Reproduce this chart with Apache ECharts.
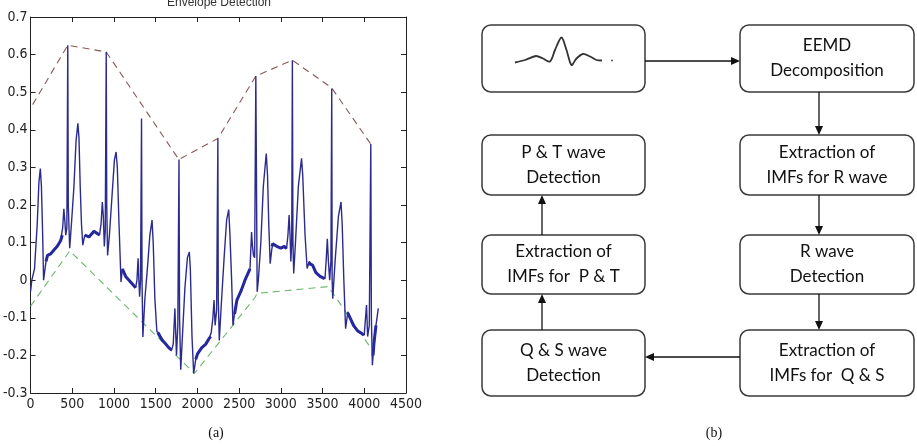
<!DOCTYPE html>
<html>
<head>
<meta charset="utf-8">
<script src="https://cdn.jsdelivr.net/npm/echarts@6.0.0/dist/echarts.min.js"></script>
<style>
  html, body { margin: 0; padding: 0; background: #fff; }
  #chart { width: 917px; height: 446px; }
</style>
</head>
<body>
<div id="chart"></div>
<script>
// ECG trace (sample index, amplitude)
const sigX = [0, 15, 47, 80, 100, 117, 130, 145, 156, 185, 203, 240, 280, 320, 360, 385, 399, 410, 422, 435, 446, 452, 469, 490, 520, 545, 567, 580, 595, 610, 626, 650, 700, 760, 826, 845, 860, 872, 884, 895, 907, 913, 923, 945, 975, 1005, 1025, 1040, 1060, 1084,
  1100, 1140, 1180, 1220, 1260, 1275, 1289, 1298, 1307, 1318, 1330, 1336, 1346, 1370, 1400, 1430, 1456, 1470, 1490, 1514, 1540, 1580, 1620, 1660, 1690, 1710, 1730, 1749, 1765, 1779, 1786, 1800, 1820, 1850, 1880, 1903, 1915, 1935, 1955,
  1980, 2003, 2050, 2100, 2140, 2165, 2185, 2199, 2212, 2230, 2245, 2250, 2262, 2290, 2320, 2350, 2375, 2390, 2410, 2426, 2450, 2473, 2520, 2570, 2610, 2630, 2649, 2660, 2672, 2686, 2700, 2716, 2730, 2760, 2790, 2825, 2840, 2855, 2872,
  2890, 2903, 2950, 3000, 3040, 3068, 3085, 3099, 3110, 3120, 3130, 3138, 3145, 3154, 3175, 3210, 3248, 3262, 3290, 3315, 3340, 3380, 3420, 3470, 3529, 3545, 3557, 3570, 3585, 3600, 3610, 3615, 3622, 3650, 3690, 3721, 3735, 3755, 3776,
  3803, 3830, 3870, 3920, 3960, 3999, 4015, 4027, 4040, 4060, 4078, 4085, 4097, 4115, 4140, 4168];
const sigY = [-0.03, 0.0, 0.03, 0.15, 0.26, 0.297, 0.25, 0.12, 0.0, 0.05, 0.066, 0.07, 0.08, 0.09, 0.105, 0.14, 0.19, 0.16, 0.12, 0.14, 0.625, 0.2, 0.085, 0.15, 0.25, 0.37, 0.417, 0.38, 0.25, 0.15, 0.093, 0.12, 0.115, 0.13, 0.12, 0.15, 0.208, 0.17, 0.09, 0.13, 0.607, 0.2, 0.066, 0.12, 0.22, 0.32, 0.341, 0.3, 0.15, -0.005,
  0.03, 0.01, 0.0, -0.01, -0.02, 0.0, 0.058, 0.0, -0.044, 0.0, 0.43, 0.0, -0.151, -0.05, 0.03, 0.12, 0.16, 0.1, -0.05, -0.137, -0.14, -0.16, -0.17, -0.18, -0.186, -0.17, -0.075, -0.2, -0.12, 0.321, -0.1, -0.238, -0.15, -0.02, 0.06, 0.075, 0.03, -0.15, -0.248,
  -0.21, -0.195, -0.18, -0.17, -0.155, -0.14, -0.1, -0.053, -0.12, -0.08, 0.377, -0.05, -0.16, -0.05, 0.06, 0.16, 0.188, 0.12, 0.0, -0.12, -0.08, -0.053, -0.03, 0.0, 0.02, 0.03, 0.128, 0.09, 0.066, 0.06, 0.543, -0.031, 0.0, 0.1, 0.25, 0.337, 0.28, 0.15, 0.044,
  0.08, 0.097, 0.09, 0.085, 0.09, 0.084, 0.12, 0.173, 0.12, 0.05, 0.1, 0.585, 0.1, 0.018, 0.1, 0.25, 0.324, 0.28, 0.12, 0.031, 0.05, 0.04, 0.02, 0.01, 0.004, 0.06, 0.11, 0.05, 0.0, 0.05, 0.51, 0.0, -0.049, 0.05, 0.17, 0.208, 0.15, 0.0, -0.129,
  -0.084, -0.1, -0.12, -0.135, -0.14, -0.146, -0.1, -0.066, -0.15, -0.12, 0.362, -0.1, -0.226, -0.17, -0.12, -0.075];

// noisy baseline stretches (drawn thicker), null separates stretches
const bandX = [185, 203, 240, 280, 320, 360, 380, null, 650, 700, 760, 826, null, 1100, 1140, 1180, 1220, 1260, null,
  1525, 1540, 1580, 1620, 1660, 1690, null, 1980, 2003, 2050, 2100, 2140, 2160, null, 2445, 2473, 2520, 2570, 2610, 2630, null,
  2895, 2903, 2950, 3000, 3040, 3068, null, 3330, 3340, 3380, 3420, 3470, 3525, null, 3800, 3830, 3870, 3920, 3960, 3995, null, 4105, 4115, 4140];
const bandY = [0.05, 0.066, 0.07, 0.08, 0.09, 0.105, 0.12, null, 0.12, 0.115, 0.13, 0.12, null, 0.03, 0.01, 0.0, -0.01, -0.02, null,
  -0.14, -0.14, -0.16, -0.17, -0.18, -0.186, null, -0.21, -0.195, -0.18, -0.17, -0.155, -0.15, null, -0.09, -0.053, -0.03, 0.0, 0.02, 0.03, null,
  0.09, 0.097, 0.09, 0.085, 0.09, 0.084, null, 0.045, 0.05, 0.04, 0.02, 0.01, 0.004, null, -0.086, -0.1, -0.12, -0.135, -0.14, -0.146, null, -0.2, -0.17, -0.12];

// upper (max) and lower (min) envelopes
const upperX = [25, 446, 907, 1777, 2245, 2700, 3138, 3608, 4078];
const upperY = [0.467, 0.625, 0.607, 0.321, 0.377, 0.543, 0.585, 0.512, 0.362];
const lowerX = [0, 470, 1964, 2690, 2716, 3568, 4078];
const lowerY = [-0.069, 0.078, -0.248, -0.046, -0.035, -0.017, -0.18];

const xTicks = { min: 0, max: 4500, step: 500 };
const yTicks = { min: -0.3, max: 0.7, step: 0.1 };

// flowchart (b)
const boxes = [
  { x: 482, y: 25, w: 163, h: 67, lines: [] },
  { x: 740, y: 25, w: 174, h: 67, lines: ['EEMD', 'Decomposition'] },
  { x: 482, y: 135, w: 163, h: 60, lines: ['P & T wave', 'Detection'] },
  { x: 740, y: 135, w: 174, h: 60, lines: ['Extraction of', 'IMFs for R wave'] },
  { x: 482, y: 235, w: 163, h: 59, lines: ['Extraction of', 'IMFs for  P & T'] },
  { x: 740, y: 235, w: 174, h: 59, lines: ['R wave', 'Detection'] },
  { x: 482, y: 330, w: 163, h: 66, lines: ['Q & S wave', 'Detection'] },
  { x: 740, y: 330, w: 174, h: 66, lines: ['Extraction of', 'IMFs for  Q & S'] }
];
// [x1, y1, x2, y2] arrow from -> to
const arrows = [
  [645, 61, 740, 61],
  [819, 92, 819, 135],
  [819, 195, 819, 235],
  [819, 294, 819, 330],
  [740, 357, 645, 357],
  [542, 330, 542, 294],
  [542, 235, 542, 195]
];
const ecgIcon = [[515, 62.5], [525, 60], [536, 56], [543, 58.5], [550, 61.5], [555, 50], [561.5, 37.5], [566.5, 50], [571.5, 65], [576.5, 58.5], [583, 54], [590, 56.5], [596.5, 60], [602, 60.5]];

const zip = (xs, ys) => xs.map((x, i) => (x === null ? null : [x, ys[i]]));

const chart = echarts.init(document.getElementById('chart'), null, { renderer: 'canvas' });

const narrow = "'Liberation Sans Narrow', 'DejaVu Sans Condensed', Arial, sans-serif";
const boxFont = "17px Lato, 'Open Sans', sans-serif";

const graphic = [];
boxes.forEach((b) => {
  graphic.push({
    type: 'rect',
    shape: { x: b.x, y: b.y, width: b.w, height: b.h, r: 9 },
    style: { fill: '#fff', stroke: '#3a3a3a', lineWidth: 1.5 }
  });
  const cy = b.y + b.h / 2;
  b.lines.forEach((t, i) => {
    graphic.push({
      type: 'text',
      x: b.x + b.w / 2,
      y: cy + (i - (b.lines.length - 1) / 2) * 25,
      style: { text: t, font: boxFont, fill: '#111', align: 'center', verticalAlign: 'middle' }
    });
  });
});
arrows.forEach(([x1, y1, x2, y2]) => {
  const dx = Math.sign(x2 - x1), dy = Math.sign(y2 - y1);
  const len = 9, half = 4;
  graphic.push({
    type: 'line',
    shape: { x1, y1, x2: x2 - dx * len, y2: y2 - dy * len },
    style: { stroke: '#111', lineWidth: 1.3 }
  });
  const bx = x2 - dx * len, by = y2 - dy * len;
  graphic.push({
    type: 'polygon',
    shape: { points: [[x2, y2], [bx - dy * half, by - dx * half], [bx + dy * half, by + dx * half]] },
    style: { fill: '#111' }
  });
});
graphic.push({
  type: 'polyline',
  shape: { points: ecgIcon, smooth: 0.3 },
  style: { stroke: '#333', lineWidth: 1.8, fill: null }
});
graphic.push({ type: 'circle', shape: { cx: 612, cy: 60.5, r: 1 }, style: { fill: '#555' } });
graphic.push({ type: 'text', x: 216, y: 433, style: { text: '(a)', font: "14px 'Liberation Serif', serif", fill: '#111', align: 'center', verticalAlign: 'middle' } });
graphic.push({ type: 'text', x: 714, y: 433, style: { text: '(b)', font: "14px 'Liberation Serif', serif", fill: '#111', align: 'center', verticalAlign: 'middle' } });

const axisCommon = {
  type: 'value',
  axisLine: { show: true, onZero: false, lineStyle: { color: '#222', width: 1 } },
  axisTick: { show: true, inside: true, length: 5, lineStyle: { color: '#222' } },
  splitLine: { show: false }
};

const option = {
  animation: false,
  backgroundColor: '#fff',
  title: {
    text: 'Envelope Detection',
    left: 214,
    textAlign: 'center',
    top: -8,
    textStyle: { fontSize: 12, fontWeight: 'normal', color: '#333', fontFamily: 'Liberation Sans, Arial, sans-serif' }
  },
  grid: { left: 23, top: 17, width: 383, height: 376 },
  xAxis: [
    Object.assign({}, axisCommon, {
      position: 'bottom', min: xTicks.min, max: xTicks.max, interval: xTicks.step,
      axisLabel: { color: '#222', fontSize: 14, fontFamily: narrow, margin: 4, formatter: (v) => String(v) }
    }),
    Object.assign({}, axisCommon, {
      position: 'top', min: xTicks.min, max: xTicks.max, interval: xTicks.step,
      axisLabel: { show: false }
    })
  ],
  yAxis: [
    Object.assign({}, axisCommon, {
      position: 'left', min: yTicks.min, max: yTicks.max, interval: yTicks.step,
      axisLabel: {
        color: '#222', fontSize: 14, fontFamily: narrow, margin: 3,
        formatter: (v) => String(Math.round(v * 10) / 10)
      }
    }),
    Object.assign({}, axisCommon, {
      position: 'right', min: yTicks.min, max: yTicks.max, interval: yTicks.step,
      axisLabel: { show: false }
    })
  ],
  series: [
    {
      name: 'upper', type: 'line', data: zip(upperX, upperY), showSymbol: false,
      lineStyle: { color: '#8a5656', width: 1.1, type: [7, 5] }, z: 2
    },
    {
      name: 'lower', type: 'line', data: zip(lowerX, lowerY), showSymbol: false,
      lineStyle: { color: '#6db86d', width: 1.1, type: [7, 5] }, z: 2
    },
    {
      name: 'band', type: 'line', data: zip(bandX, bandY), showSymbol: false, connectNulls: false,
      lineStyle: { color: '#2024b4', width: 3 }, z: 3
    },
    {
      name: 'ecg', type: 'line', data: zip(sigX, sigY), showSymbol: false,
      lineStyle: { color: '#2b2b8f', width: 1.4 }, z: 4
    }
  ],
  graphic: graphic
};

chart.setOption(option);
</script>
</body>
</html>
